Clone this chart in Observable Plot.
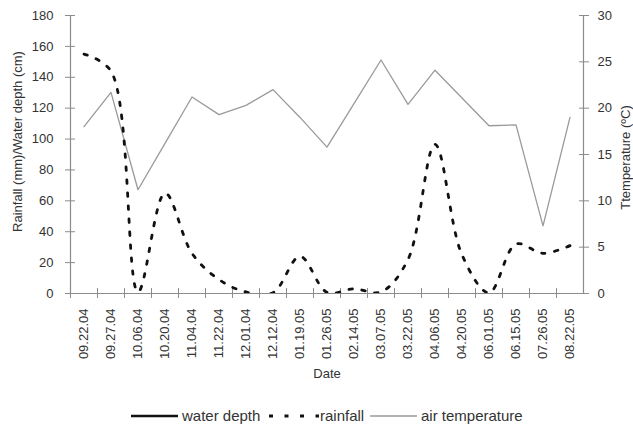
<!DOCTYPE html>
<html>
<head>
<meta charset="utf-8">
<script src="https://cdn.jsdelivr.net/npm/d3@7"></script>
<script src="https://cdn.jsdelivr.net/npm/@observablehq/plot@0.6"></script>
<style>
  html, body { margin: 0; padding: 0; background: #fff; }
  #chart { width: 633px; }
  .legend { position: relative; height: 25px; width: 633px; font-family: "Liberation Sans", Arial, sans-serif; font-size: 15px; color: #333; }
  .legend .item { position: absolute; top: 0; height: 25px; display: flex; align-items: center; }
  .legend svg { display: block; }
</style>
</head>
<body>
<div id="chart"></div>
<script>
const dates = ["09.22.04","09.27.04","10.06.04","10.20.04","11.04.04","11.22.04","12.01.04","12.12.04","01.19.05","01.26.05","02.14.05","03.07.05","03.22.05","04.06.05","04.20.05","06.01.05","06.15.05","07.26.05","08.22.05"];
const rainfall = [155, 144, 1, 65, 26, 9, 1, 0.5, 24, 0.8, 3, 1, 22, 96.5, 25, 0.5, 32, 26, 31];
const temperature = [18.0, 21.7, 11.2, 16.2, 21.2, 19.3, 20.3, 22.0, 19.0, 15.8, 20.5, 25.2, 20.4, 24.1, 21.1, 18.1, 18.2, 7.3, 19.0];
const leftTicks = [0, 20, 40, 60, 80, 100, 120, 140, 160, 180];
const rightTicks = [0, 5, 10, 15, 20, 25, 30];
const legendLabels = ["water depth", "rainfall", "air temperature"];

const leftMax = 180, rightMax = 30, k = leftMax / rightMax;
const W = 633, H = 403, mL = 70, mR = 50, mT = 15, mB = 110;
const bw = (W - mL - mR) / dates.length;
const axisColor = "#8c8c8c";

const rows = dates.map((d, i) => ({date: d, rain: rainfall[i], temp: temperature[i] * k}));

const chart = Plot.plot({
  width: W, height: H,
  marginLeft: mL, marginRight: mR, marginTop: mT, marginBottom: mB,
  style: {fontFamily: "'Liberation Sans', Arial, sans-serif", fontSize: "13px", color: "#333", background: "#fff"},
  x: {type: "band", domain: dates, padding: 0, axis: null},
  y: {domain: [0, leftMax], axis: null},
  marks: [
    Plot.ruleY([0], {stroke: axisColor, strokeWidth: 1.2}),
    Plot.ruleX([dates[0]], {y1: 0, y2: leftMax, dx: -bw / 2, stroke: axisColor, strokeWidth: 1.2}),
    Plot.ruleX([dates[dates.length - 1]], {y1: 0, y2: leftMax, dx: bw / 2, stroke: axisColor, strokeWidth: 1.2}),
    Plot.axisY({anchor: "left", ticks: leftTicks, tickSize: 10, dx: 5, tickPadding: 12, stroke: axisColor, label: null}),
    Plot.axisY({anchor: "right", ticks: rightTicks.map(t => t * k), tickFormat: t => String(t / k), tickSize: 10, dx: -5, tickPadding: 9, stroke: axisColor, label: null}),
    Plot.axisX({anchor: "bottom", tickSize: 10, dy: -5, dx: -bw / 2, tickFormat: () => "", stroke: axisColor, label: null}),
    Plot.axisX({anchor: "bottom", tickSize: 0, tickRotate: -90, tickPadding: 15, label: null}),
    Plot.line(rows, {x: "date", y: "temp", stroke: "#9a9a9a", strokeWidth: 1.3}),
    Plot.line(rows, {x: "date", y: "rain", curve: "catmull-rom", clip: true, stroke: "#111", strokeWidth: 2.8, strokeDasharray: "3.5,9.5"}),
    Plot.text(["Date"], {text: d => d, frameAnchor: "bottom", dy: 84, fontSize: 13}),
    Plot.text(["Rainfall (mm)/Water depth (cm)"], {text: d => d, frameAnchor: "left", textAnchor: "middle", dx: -53, dy: -13, rotate: -90, fontSize: 13}),
    Plot.text(["Ttemperature (ºC)"], {text: d => d, frameAnchor: "right", textAnchor: "middle", dx: 42, dy: 3, rotate: -90, fontSize: 13})
  ]
});
document.getElementById("chart").appendChild(chart);

// legend
const legend = document.createElement("div");
legend.className = "legend";
const items = [
  {left: 131, sw: `<svg width="47" height="10"><line x1="0" y1="5" x2="47" y2="5" stroke="#111" stroke-width="2.6"/></svg>`, label: legendLabels[0], gap: 4},
  {left: 269, sw: `<svg width="50" height="10"><line x1="0" y1="5" x2="50" y2="5" stroke="#111" stroke-width="3" stroke-dasharray="4,11.5"/></svg>`, label: legendLabels[1], gap: 1},
  {left: 370, sw: `<svg width="47" height="10"><line x1="0" y1="5" x2="47" y2="5" stroke="#9a9a9a" stroke-width="1.4"/></svg>`, label: legendLabels[2], gap: 4}
];
for (const it of items) {
  const el = document.createElement("div");
  el.className = "item";
  el.style.left = it.left + "px";
  el.innerHTML = it.sw + `<span style="margin-left:${it.gap}px">${it.label}</span>`;
  legend.appendChild(el);
}
document.body.appendChild(legend);
</script>
</body>
</html>
